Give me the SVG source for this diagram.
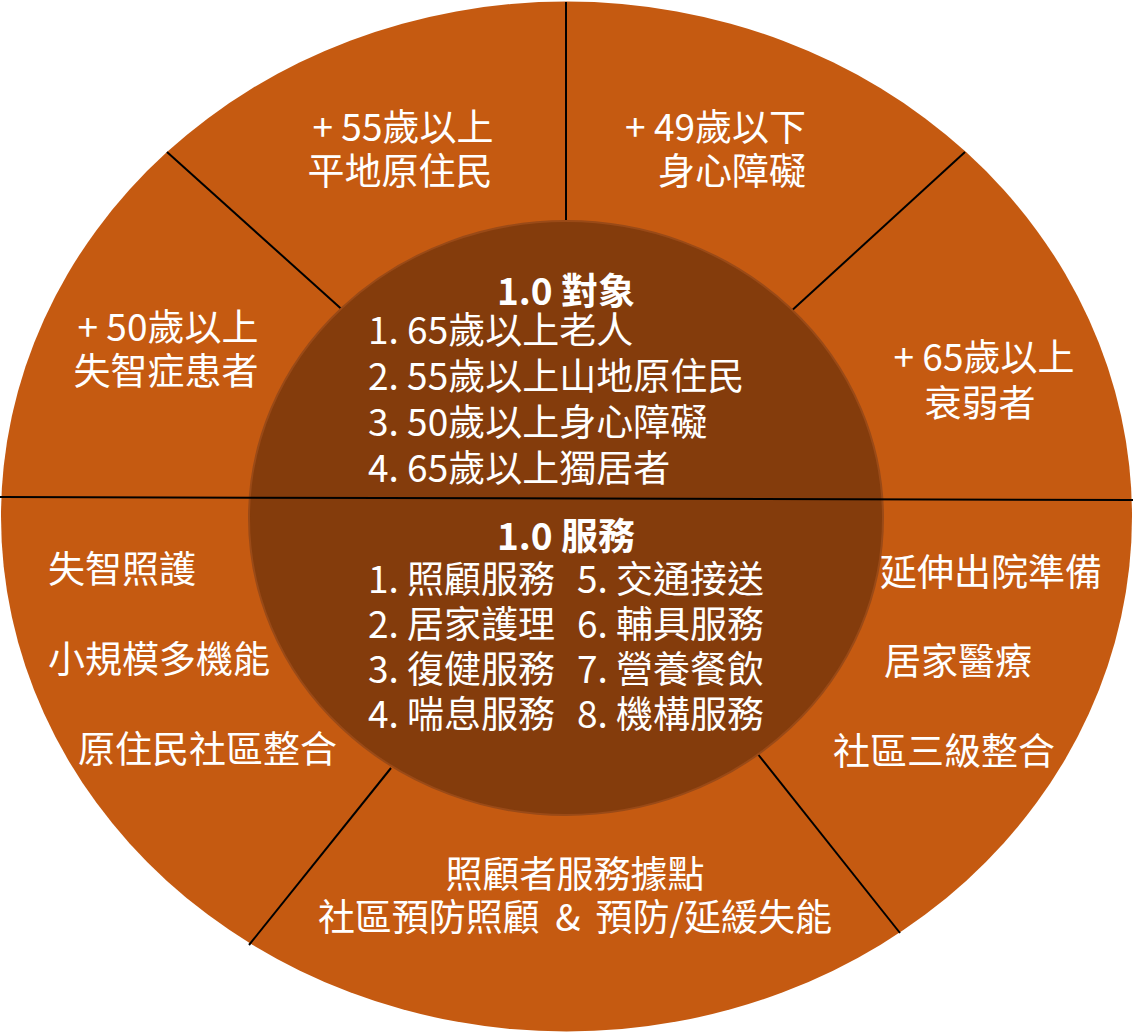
<svg xmlns="http://www.w3.org/2000/svg" width="1133" height="1033" viewBox="0 0 1133 1033">
<style>
text{font-family:"Noto Sans CJK TC","Noto Sans CJK SC",sans-serif;fill:#ffffff;font-size:37px}
.b{font-weight:bold;text-anchor:middle}
.m{text-anchor:middle}
.e{text-anchor:end}
.ln{stroke:#000;stroke-width:2;fill:none}
</style>
<rect width="1133" height="1033" fill="#ffffff"/>
<g id="outer"><ellipse cx="566.5" cy="516.5" rx="565.5" ry="515" fill="#C55A11"/></g>
<g id="connectors">
<line class="ln" x1="566" y1="2" x2="566" y2="225"/>
<line class="ln" x1="167" y1="152" x2="347" y2="314"/>
<line class="ln" x1="965" y1="152" x2="788" y2="314"/>
<line class="ln" x1="391" y1="768" x2="249" y2="945"/>
<line class="ln" x1="757" y1="753" x2="900" y2="933"/>
</g>
<g id="inner"><ellipse cx="566" cy="518" rx="317" ry="297" fill="#843C0C" stroke="#9a4a17" stroke-width="2"/></g>
<g id="divider"><line class="ln" x1="0" y1="497" x2="1133" y2="500"/></g>
<g id="seg-top-left">
<text x="403" y="141" class="m">+ 55歲以上</text>
<text x="400" y="185" class="m">平地原住民</text>
</g>
<g id="seg-top-right">
<text x="806" y="141" class="e">+ 49歲以下</text>
<text x="806" y="185" class="e">身心障礙</text>
</g>
<g id="seg-left">
<text x="168" y="341" class="m">+ 50歲以上</text>
<text x="166" y="385" class="m">失智症患者</text>
</g>
<g id="seg-right">
<text x="984" y="371" class="m">+ 65歲以上</text>
<text x="980" y="417" class="m">衰弱者</text>
</g>
<g id="seg-lower-left">
<text x="48" y="583">失智照護</text>
<text x="48" y="673">小規模多機能</text>
<text x="78" y="763">原住民社區整合</text>
</g>
<g id="seg-lower-right">
<text x="880" y="586">延伸出院準備</text>
<text x="884" y="675">居家醫療</text>
<text x="833" y="765">社區三級整合</text>
</g>
<g id="seg-bottom">
<text x="575" y="888" class="m">照顧者服務據點</text>
<text x="575" y="931" class="m" word-spacing="7">社區預防照顧 &amp; 預防/延緩失能</text>
</g>
<g id="center-targets">
<text x="566" y="305" class="b">1.0 對象</text>
<text x="368" y="344">1. 65歲以上老人</text>
<text x="368" y="390">2. 55歲以上山地原住民</text>
<text x="368" y="436">3. 50歲以上身心障礙</text>
<text x="368" y="482">4. 65歲以上獨居者</text>
</g>
<g id="center-services">
<text x="566" y="550" class="b">1.0 服務</text>
<text x="368" y="593">1. 照顧服務</text>
<text x="368" y="638">2. 居家護理</text>
<text x="368" y="683">3. 復健服務</text>
<text x="368" y="728">4. 喘息服務</text>
<text x="577" y="593">5. 交通接送</text>
<text x="577" y="638">6. 輔具服務</text>
<text x="577" y="683">7. 營養餐飲</text>
<text x="577" y="728">8. 機構服務</text>
</g>
</svg>
